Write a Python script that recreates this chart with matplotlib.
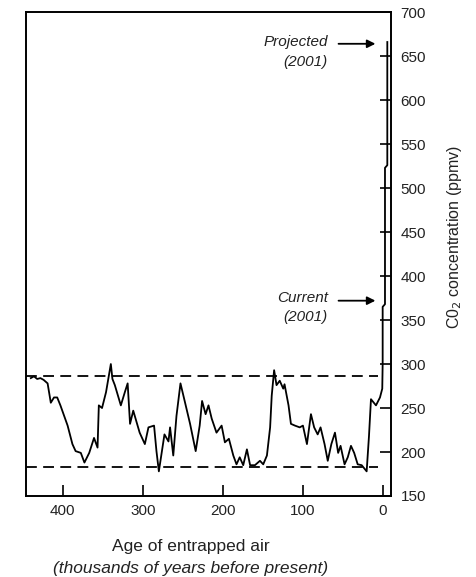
import numpy as np
import matplotlib.pyplot as plt

plt.rcParams['font.family'] = ['Liberation Sans', 'DejaVu Sans']

# Vostok ice core CO2 record, age in thousands of years before present
age = [440, 436, 432, 428, 424, 419, 415, 411, 407, 403, 394, 388, 384, 377.5,
       373, 367, 361, 356.6, 355, 351, 346, 340, 338, 335, 327.5, 322.5, 319,
       316, 312, 304, 297.5, 293, 286, 283, 280, 273, 268, 266, 262, 258, 253,
       247.5, 241, 234, 229, 226, 221.6, 218, 214, 208, 201.6, 197.5, 192.5,
       187, 183, 179, 174.6, 170, 166, 160, 153.7, 149.6, 145, 141, 139, 136,
       133, 129, 124.6, 123, 118, 115, 110, 104, 100, 95, 90, 86, 81.6, 78, 73,
       69, 64.5, 60, 56, 53, 48, 44, 40, 36, 31.6, 26.6, 20.4, 17.5, 15, 8.75,
       3.75, 0.9, 0.4, 0.4, -2.5, -2.5, -5.4, -5.4]
co2 = [284, 286, 283, 284, 282, 278, 256, 262, 262, 253, 230, 209, 201, 199,
       188, 199, 216, 205, 253, 250, 268, 300, 283, 276, 253, 268, 278,
       232, 247, 222, 209, 228, 230, 201, 178, 220, 212, 228, 196, 241, 278,
       257, 232, 201, 230, 258, 243, 253, 238, 222, 230, 211, 215,
       196, 186, 194, 185, 203, 185, 185, 190, 186, 196, 228, 264, 293,
       276, 281, 272, 277, 253, 232, 230, 228, 230, 209, 243, 228, 220, 228, 209,
       190, 209, 222, 199, 207, 186, 194, 207, 199, 186, 185, 178, 218, 260, 253,
       262, 272, 300, 365, 368, 523, 526, 666]

# pre-industrial bounds of the glacial cycles
co2_high = 286
co2_low = 183

yticks = [150, 200, 250, 300, 350, 400, 450, 500, 550, 600, 650, 700]
xticks = [400, 300, 200, 100, 0]

txt = '#222222'

fig = plt.figure(figsize=(4.76, 5.77), dpi=100)
ax = fig.add_axes([0.0546, 0.1404, 0.7668, 0.8386])

ax.plot(age, co2, color='black', lw=1.3)
ax.hlines([co2_high, co2_low], 446, 6, colors='black', lw=1.3,
          linestyles=(0, (6, 3.5)))

ax.set_xlim(446, -10)
ax.set_ylim(150, 700)
ax.set_xticks(xticks)
ax.set_yticks(yticks)

ax.yaxis.tick_right()
ax.tick_params(axis='both', direction='in', length=8, width=1.2,
               labelsize=11, labelcolor=txt)
ax.tick_params(axis='x', pad=6)
ax.tick_params(axis='y', pad=7)
for s in ax.spines.values():
    s.set_linewidth(1.4)

# axis titles
fig.text(455 / 476, 1 - 237 / 577, 'C0$_2$ concentration (ppmv)',
         rotation=90, ha='center', va='center', fontsize=11.5, color=txt)
fig.text(191 / 476, 1 - 547 / 577, 'Age of entrapped air', ha='center',
         va='center', fontsize=12.5, color=txt)
fig.text(191 / 476, 1 - 568 / 577, '(thousands of years before present)',
         ha='center', va='center', fontsize=12.5, style='italic', color=txt)

# labels with arrows for present-day and projected values
arrow = dict(arrowstyle='-|>', color='black', lw=1.3, mutation_scale=12)
ax.annotate('', xy=(6, 664), xytext=(59, 664), arrowprops=arrow)
ax.text(69, 666, 'Projected', ha='right', va='center', style='italic',
        fontsize=11, color=txt)
ax.text(69, 643, '(2001)', ha='right', va='center', style='italic',
        fontsize=11, color=txt)
ax.annotate('', xy=(6, 372), xytext=(59, 372), arrowprops=arrow)
ax.text(69, 375, 'Current', ha='right', va='center', style='italic',
        fontsize=11, color=txt)
ax.text(69, 354, '(2001)', ha='right', va='center', style='italic',
        fontsize=11, color=txt)

fig.savefig('out.png', dpi=100)
